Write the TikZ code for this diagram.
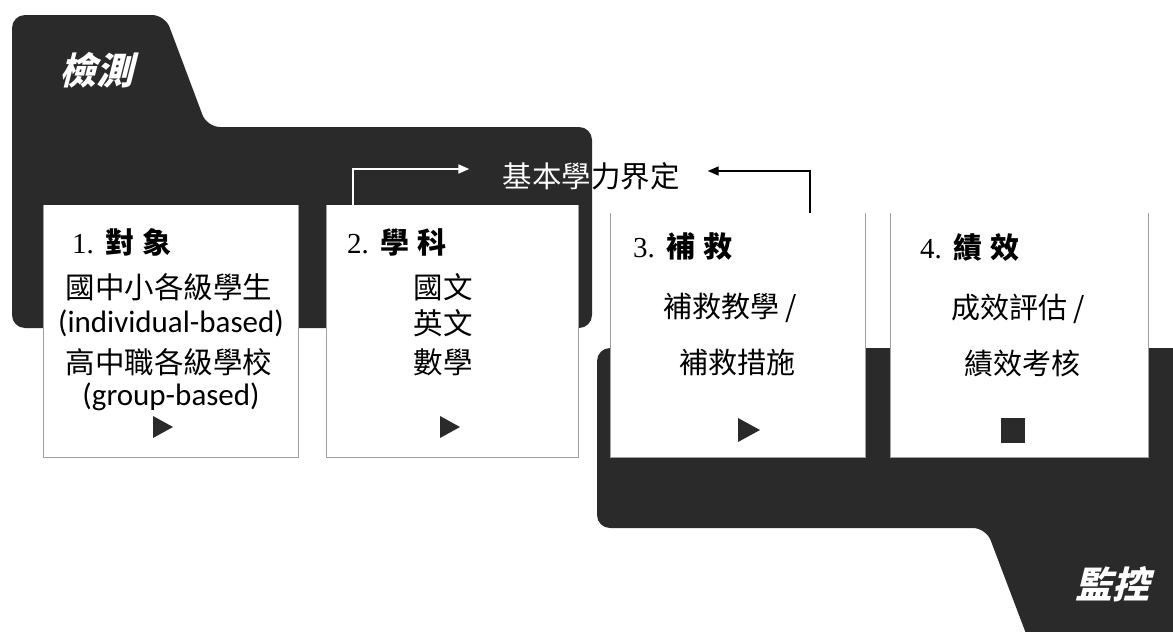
\documentclass[tikz,border=0pt]{standalone}
\usepackage{fontspec}
\setmainfont{Liberation Serif}
\newfontfamily\cjk{Noto Sans CJK TC}
\newfontfamily\cjkslant{Noto Sans CJK TC}[FakeSlant=0.25]
\newfontfamily\lat{Carlito}
\usetikzlibrary{arrows.meta}
\definecolor{band}{HTML}{2A2A2A}
\definecolor{edge}{HTML}{A0A0A0}
\tikzset{
  panel/.style={fill=white, inner sep=0pt, anchor=north west},
  rim/.style={draw=edge, line width=0.8pt},
  title/.style={anchor=west, inner sep=0pt, font=\fontsize{29}{32}\selectfont},
  body/.style={inner sep=0pt, font=\cjk\fontsize{29.5}{34}\selectfont},
  bodysm/.style={inner sep=0pt, font=\cjk\fontsize{29}{34}\selectfont},
  latin/.style={inner sep=0pt, font=\lat\fontsize{31}{34}\selectfont},
  tag/.style={inner sep=0pt, text=white, font=\cjkslant\bfseries\fontsize{37}{40}\selectfont},
  flow/.style={line width=2pt, -{Triangle[length=11pt,width=9pt]}},
}
\begin{document}
\begin{tikzpicture}[x=1pt,y=-1pt]
\useasboundingbox (0,0) rectangle (1173,632);
\fill[white] (0,0) rectangle (1173,632);
% dark bands
\fill[band, rounded corners=13pt] (12,328) -- (12,15) -- (165,15) -- (207,127) -- (592,127) -- (592,328) -- cycle;
\fill[band, rounded corners=13pt] (597,528) -- (597,348) -- (1200,348) -- (1200,660) -- (1036,660) -- (986,528) -- cycle;
\node[tag] (det) at (96,70) {檢測};
\node[tag] (mon) at (1112,584) {監控};
% panels
\node[panel, minimum width=255pt, minimum height=252pt] (p1) at (43,205) {};
\node[panel, minimum width=252pt, minimum height=252pt] (p2) at (326,205) {};
\node[panel, minimum width=255pt, minimum height=244pt] (p3) at (610,213) {};
\node[panel, minimum width=258pt, minimum height=244pt] (p4) at (890,213) {};
\foreach \p in {p1,p2,p3,p4}
  \draw[rim] (\p.north west) -- (\p.south west) -- (\p.south east) -- (\p.north east);
% titles
\node[title] (t1) at (72,242) {1.\hspace{12pt}{\cjk\bfseries 對\hspace{8pt}象}};
\node[title] (t2) at (347,242) {2.\hspace{12pt}{\cjk\bfseries 學\hspace{8pt}科}};
\node[title] (t3) at (633,246) {3.\hspace{12pt}{\cjk\bfseries 補\hspace{8pt}救}};
\node[title] (t4) at (920,247) {4.\hspace{12pt}{\cjk\bfseries 績\hspace{8pt}效}};
% panel 1
\node[body] (l11) at (169,287) {國中小各級學生};
\node[latin] (l12) at (171,323) {(individual-based)};
\node[body] (l13) at (169,362) {高中職各級學校};
\node[latin] (l14) at (171,397) {(group-based)};
% panel 2
\node[body] (l21) at (443,287) {國文};
\node[body] (l22) at (443,323) {英文};
\node[body] (l23) at (443,362) {數學};
% panel 3
\node[bodysm] (l31) at (730,308) {補救教學 /};
\node[bodysm] (l32) at (737,362) {補救措施};
% panel 4
\node[bodysm] (l41) at (1018,309) {成效評估 /};
\node[bodysm] (l42) at (1022,363) {績效考核};
% markers
\fill[band] (153,416) -- (173,427) -- (153,438) -- cycle;
\fill[band] (440,416) -- (460,427) -- (440,438) -- cycle;
\fill[band] (738,418) -- (760,430) -- (738,442) -- cycle;
\fill[band] (1001,418) rectangle (1025,443);
% goal text, white where it lies on the dark band
\node[body] (goal) at (591,176) {基本學力界定};
\begin{scope}
\clip[rounded corners=13pt] (12,328) -- (12,15) -- (165,15) -- (207,127) -- (592,127) -- (592,328) -- cycle;
\node[body, text=white] (goalw) at (591,176) {基本學力界定};
\end{scope}
% connectors
\draw[flow, white] ([xshift=27pt]p2.north west) |- ([xshift=-33pt,yshift=7pt]goal.west);
\draw[flow, black, line width=1.5pt] ([xshift=200pt]p3.north west) |- ([xshift=28pt,yshift=5pt]goal.east);
\end{tikzpicture}
\end{document}
